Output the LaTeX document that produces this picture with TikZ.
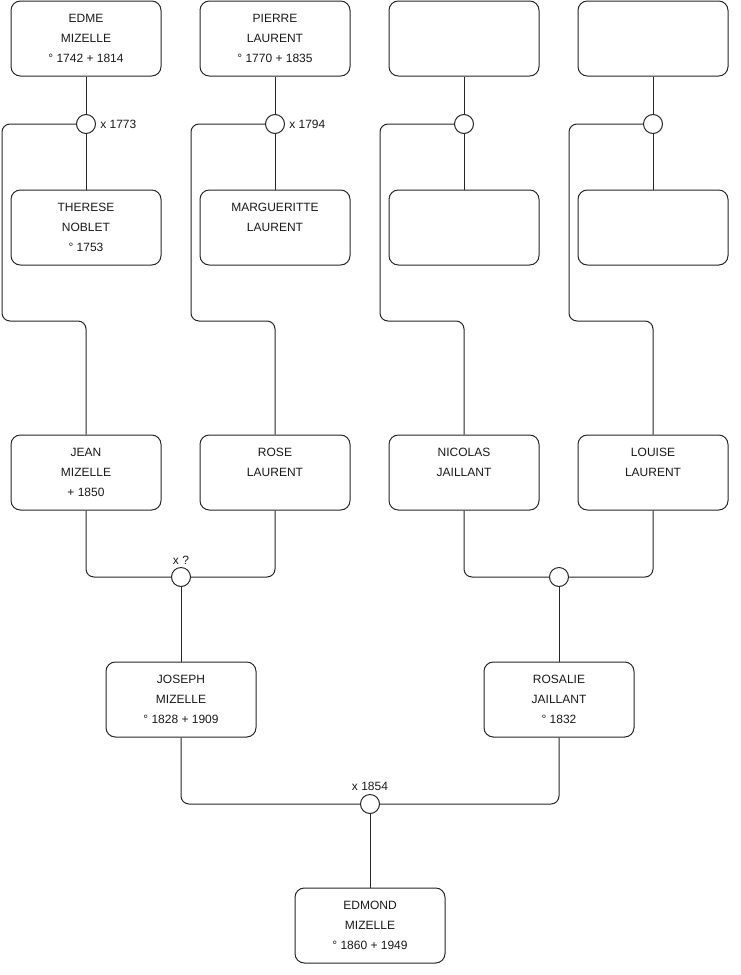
\documentclass[tikz,border=0pt]{standalone}
\usepackage{fontspec}
\setmainfont{Liberation Sans}
\usepackage{xcolor}
\usetikzlibrary{positioning}
\definecolor{Ink}{HTML}{1A1A1A}
\definecolor{Wire}{HTML}{262626}
\tikzset{
  person/.style={draw=Wire,fill=white,rounded corners=7pt,minimum width=112.5pt,minimum height=56.25pt,align=center,font=\fontsize{9}{15}\selectfont,text=Ink,line width=0.75pt},
  union/.style={draw=Wire,fill=white,circle,minimum size=14.25pt,inner sep=0pt,line width=0.75pt},
  link/.style={draw=Wire,line width=0.75pt,rounded corners=6pt},
  note/.style={font=\fontsize{9}{11}\selectfont,text=Ink,inner sep=2pt}
}

\begin{document}
\begin{tikzpicture}[x=0.75pt,y=-0.75pt]
  \useasboundingbox (0,0) rectangle (740,975);
  % top generation
  \node[person] (edme) at (86,38.5) {EDME\\MIZELLE\\° 1742 + 1814};
  \node[person] (pierre) at (275,38.5) {PIERRE\\LAURENT\\° 1770 + 1835};
  \node[person] (top3) at (464,38.5) {};
  \node[person] (top4) at (653,38.5) {};
  \node[union] (u1) at (86,124) {};
  \node[union] (u2) at (275,124) {};
  \node[union] (u3) at (464,124) {};
  \node[union] (u4) at (653,124) {};
  \node[note,right=1pt of u1] (u1date) {x 1773};
  \node[note,right=1pt of u2] (u2date) {x 1794};
  \node[person] (therese) at (86,227.5) {THERESE\\NOBLET\\° 1753};
  \node[person] (marg) at (275,227.5) {MARGUERITTE\\LAURENT\\~};
  \node[person] (mid3) at (464,227.5) {};
  \node[person] (mid4) at (653,227.5) {};
  % children
  \node[person] (jean) at (86,472.5) {JEAN\\MIZELLE\\+ 1850};
  \node[person] (rose) at (275,472.5) {ROSE\\LAURENT\\~};
  \node[person] (nicolas) at (464,472.5) {NICOLAS\\JAILLANT\\~};
  \node[person] (louise) at (653,472.5) {LOUISE\\LAURENT\\~};
  \node[union] (m1) at (181,577) {};
  \node[union] (m2) at (559,577) {};
  \node[note,above=0pt of m1] (m1date) {x ?};
  \node[person] (joseph) at (181,699.5) {JOSEPH\\MIZELLE\\° 1828 + 1909};
  \node[person] (rosalie) at (559,699.5) {ROSALIE\\JAILLANT\\° 1832};
  \node[union] (m3) at (370,804) {};
  \node[note,above=0pt of m3] (m3date) {x 1854};
  \node[person] (edmond) at (370,925.5) {EDMOND\\MIZELLE\\° 1860 + 1949};

  \draw[link] (edme) -- (u1) -- (therese);
  \draw[link] (pierre) -- (u2) -- (marg);
  \draw[link] (top3) -- (u3) -- (mid3);
  \draw[link] (top4) -- (u4) -- (mid4);
  \draw[link] (u1.west) -| (2,321) -| (jean.north);
  \draw[link] (u2.west) -| (191,321) -| (rose.north);
  \draw[link] (u3.west) -| (380,321) -| (nicolas.north);
  \draw[link] (u4.west) -| (569,321) -| (louise.north);
  \draw[link] (jean.south) |- (m1.west);
  \draw[link] (rose.south) |- (m1.east);
  \draw[link] (nicolas.south) |- (m2.west);
  \draw[link] (louise.south) |- (m2.east);
  \draw[link] (m1) -- (joseph);
  \draw[link] (m2) -- (rosalie);
  \draw[link] (joseph.south) |- (m3.west);
  \draw[link] (rosalie.south) |- (m3.east);
  \draw[link] (m3) -- (edmond);
\end{tikzpicture}
\end{document}
